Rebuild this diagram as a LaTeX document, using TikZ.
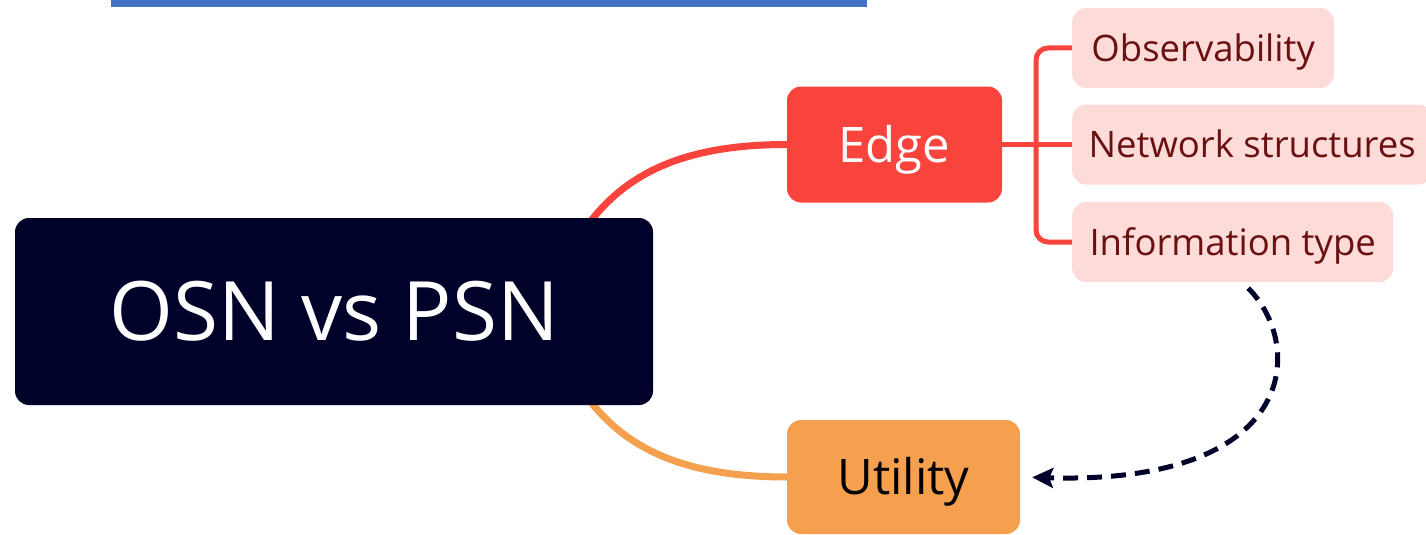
\documentclass[tikz,border=0pt]{standalone}
\usepackage{fontspec}
\setmainfont{Open Sans}
\usetikzlibrary{arrows.meta,calc}
\definecolor{barblue}{HTML}{4472C4}
\definecolor{rootnavy}{HTML}{000229}
\definecolor{edgered}{HTML}{F9443E}
\definecolor{utilorange}{HTML}{F5A04E}
\definecolor{leafpink}{HTML}{FCDBD9}
\definecolor{leaftext}{HTML}{6A1010}
\pgfdeclarelayer{bg}
\pgfsetlayers{bg,main}
\tikzset{
  box/.style={rectangle, rounded corners=14pt, inner sep=0pt, text depth=0pt},
  rootbox/.style={box, fill=rootnavy, text=white, minimum width=638pt, minimum height=187pt,
    font=\fontsize{82}{90}\selectfont, text height=58pt},
  mainbox/.style={box, minimum height=116pt, font=\fontsize{49}{56}\selectfont, text height=35pt},
  leafbox/.style={box, anchor=west, fill=leafpink, text=leaftext, minimum height=80pt, inner xsep=16pt,
    font=\fontsize{36.5}{44}\selectfont, text height=26pt},
  redbranch/.style={draw=edgered, line width=7pt},
  orangebranch/.style={draw=utilorange, line width=7pt},
  leafline/.style={draw=edgered, line width=5pt, rounded corners=12pt},
  dasharrow/.style={draw=rootnavy, line width=5pt, dash pattern=on 15pt off 9pt,
    -{Stealth[length=21pt,width=20pt,inset=4pt]}},
}
\begin{document}
\begin{tikzpicture}[x=1pt,y=-1pt]
\useasboundingbox (0,0) rectangle (1426,535);
\fill[barblue] (111,0) rectangle (867,7);

\node[rootbox] (root) at (334,311.5) {OSN vs PSN};
\node[mainbox, fill=edgered, text=white, minimum width=215pt] (edge) at (894.5,144.5) {Edge};
\node[mainbox, fill=utilorange, text=black, minimum width=233pt, minimum height=114pt] (util) at (903.5,477) {Utility};

\node[leafbox, minimum width=262pt] (obs) at (1072,48) {Observability};
\node[leafbox, minimum width=360pt] (net) at (1072,144.5) {Network structures};
\node[leafbox, minimum width=321pt] (info) at (1072,242) {Information type};

\coordinate (j) at (1036,144.5);
\coordinate (rs) at ($(root.north east)+(-63,4)$);
\coordinate (os) at ($(root.south east)+(-63,-4)$);
\coordinate (ds) at ($(info.south)+(15.5,6)$);

\begin{pgfonlayer}{bg}
\draw[redbranch] (rs) .. controls (630,170) and (690,144.5) .. (edge.west);
\draw[orangebranch] (os) .. controls (630,452) and (690,477) .. (util.west);
\draw[leafline] (edge.east) -- (net.west);
\draw[leafline] (obs.west) -| (j) |- (info.west);
\end{pgfonlayer}

\draw[dasharrow, shorten >=12pt] (ds) .. controls (1305,345) and (1300,485) .. (util.east);
\end{tikzpicture}
\end{document}
